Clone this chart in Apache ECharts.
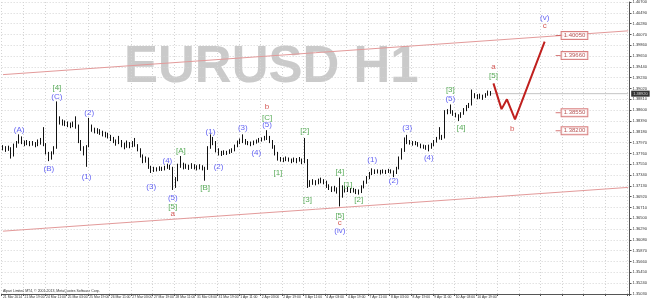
<!DOCTYPE html>
<html><head><meta charset="utf-8">
<script src="https://cdn.jsdelivr.net/npm/echarts@6/dist/echarts.min.js"></script>
<style>html,body{margin:0;padding:0;background:#fff}#c{width:650px;height:300px}</style>
</head><body><div id="c"></div>
<script>
// x tick labels (one every 8 two-hour bars)
const timeLabels = ['21 Mar 2014','21 Mar 19:00','24 Mar 11:00','25 Mar 03:00','25 Mar 19:00','26 Mar 11:00','27 Mar 03:00','27 Mar 19:00','28 Mar 11:00','31 Mar 03:00','31 Mar 19:00','1 Apr 11:00','2 Apr 03:00','2 Apr 19:00','3 Apr 11:00','4 Apr 03:00','4 Apr 19:00','7 Apr 11:00','8 Apr 03:00','8 Apr 19:00','9 Apr 11:00','10 Apr 03:00','10 Apr 19:00'];
const barsPerLabel = 8;
const slotCount = 233;

// EURUSD bars (2-hour), open = previous close
const firstOpen = 1.3784;
const closes = [1.3786,1.3783,1.3787,1.3772,1.3790,1.3796,1.3806,1.3798,1.3795,1.3797,
1.3794,1.3796,1.3793,1.3797,1.3799,1.3794,1.3778,1.3768,1.3776,1.3786,
1.3840,1.3838,1.3836,1.3834,1.3833,1.3830,1.3833,1.3830,1.3800,1.3786,
1.3780,1.3790,1.3826,1.3823,1.3820,1.3821,1.3817,1.3815,1.3812,1.3810,
1.3806,1.3800,1.3796,1.3800,1.3793,1.3789,1.3795,1.3791,1.3794,1.3792,
1.3784,1.3772,1.3762,1.3766,1.3750,1.3742,1.3746,1.3745,1.3747,1.3746,
1.3748,1.3752,1.3748,1.3712,1.3726,1.3752,1.3756,1.3749,1.3751,1.3748,
1.3752,1.3750,1.3747,1.3751,1.3748,1.3746,1.3785,1.3804,1.3798,1.3784,
1.3777,1.3776,1.3778,1.3777,1.3780,1.3782,1.3790,1.3797,1.3800,1.3802,
1.3797,1.3796,1.3794,1.3797,1.3799,1.3802,1.3803,1.3806,1.3808,1.3800,
1.3790,1.3777,1.3766,1.3765,1.3763,1.3766,1.3764,1.3761,1.3764,1.3762,
1.3765,1.3760,1.3763,1.3720,1.3718,1.3721,1.3719,1.3722,1.3724,1.3721,
1.3714,1.3710,1.3706,1.3708,1.3703,1.3706,1.3702,1.3708,1.3706,1.3704,
1.3705,1.3702,1.3701,1.3710,1.3719,1.3728,1.3736,1.3742,1.3740,1.3741,
1.3739,1.3741,1.3740,1.3742,1.3741,1.3739,1.3746,1.3766,1.3780,1.3800,
1.3798,1.3797,1.3795,1.3796,1.3793,1.3790,1.3789,1.3787,1.3788,1.3792,
1.3798,1.3804,1.3808,1.3806,1.3856,1.3857,1.3858,1.3853,1.3850,1.3847,
1.3852,1.3860,1.3866,1.3870,1.3886,1.3888,1.3886,1.3887,1.3885,1.3889,
1.3893,1.3892];
const highs = [1.3792,1.3790,1.3791,1.3788,1.3795,1.3800,1.3813,1.3809,1.3801,1.3802,
1.3800,1.3800,1.3798,1.3803,1.3806,1.3827,1.3796,1.3779,1.3780,1.3790,
1.3877,1.3848,1.3842,1.3840,1.3838,1.3836,1.3838,1.3848,1.3832,1.3802,
1.3790,1.3792,1.3845,1.3832,1.3826,1.3825,1.3823,1.3820,1.3818,1.3816,
1.3812,1.3808,1.3803,1.3810,1.3802,1.3797,1.3801,1.3798,1.3800,1.3806,
1.3794,1.3786,1.3774,1.3770,1.3768,1.3752,1.3750,1.3749,1.3751,1.3750,
1.3752,1.3756,1.3754,1.3750,1.3730,1.3756,1.3771,1.3758,1.3756,1.3754,
1.3757,1.3755,1.3753,1.3755,1.3753,1.3750,1.3790,1.3813,1.3808,1.3800,
1.3786,1.3781,1.3782,1.3781,1.3784,1.3786,1.3793,1.3801,1.3805,1.3813,
1.3804,1.3800,1.3799,1.3801,1.3803,1.3806,1.3807,1.3810,1.3821,1.3810,
1.3802,1.3792,1.3779,1.3769,1.3768,1.3770,1.3768,1.3766,1.3768,1.3767,
1.3769,1.3766,1.3806,1.3765,1.3724,1.3726,1.3724,1.3727,1.3729,1.3726,
1.3723,1.3716,1.3712,1.3713,1.3710,1.3729,1.3714,1.3713,1.3711,1.3709,
1.3709,1.3707,1.3706,1.3714,1.3723,1.3732,1.3740,1.3747,1.3745,1.3745,
1.3744,1.3745,1.3744,1.3746,1.3745,1.3743,1.3750,1.3770,1.3786,1.3807,
1.3812,1.3802,1.3800,1.3800,1.3798,1.3795,1.3793,1.3792,1.3793,1.3796,
1.3802,1.3808,1.3827,1.3812,1.3860,1.3862,1.3871,1.3860,1.3855,1.3852,
1.3856,1.3864,1.3870,1.3874,1.3900,1.3893,1.3891,1.3892,1.3890,1.3893,
1.3898,1.3897];
const lows = [1.3782,1.3779,1.3781,1.3766,1.3770,1.3787,1.3795,1.3794,1.3790,1.3792,
1.3790,1.3791,1.3788,1.3790,1.3793,1.3790,1.3774,1.3761,1.3764,1.3774,
1.3785,1.3832,1.3830,1.3829,1.3827,1.3825,1.3827,1.3824,1.3796,1.3781,
1.3772,1.3750,1.3788,1.3818,1.3815,1.3814,1.3812,1.3809,1.3807,1.3805,
1.3800,1.3796,1.3791,1.3794,1.3788,1.3784,1.3787,1.3786,1.3788,1.3789,
1.3780,1.3768,1.3757,1.3758,1.3746,1.3738,1.3740,1.3741,1.3742,1.3742,
1.3743,1.3746,1.3744,1.3705,1.3709,1.3722,1.3748,1.3745,1.3746,1.3744,
1.3746,1.3745,1.3743,1.3745,1.3743,1.3723,1.3744,1.3785,1.3792,1.3778,
1.3772,1.3771,1.3773,1.3773,1.3775,1.3777,1.3780,1.3788,1.3794,1.3796,
1.3793,1.3792,1.3790,1.3792,1.3795,1.3797,1.3799,1.3801,1.3802,1.3796,
1.3785,1.3772,1.3762,1.3760,1.3759,1.3761,1.3760,1.3757,1.3759,1.3757,
1.3760,1.3755,1.3757,1.3709,1.3711,1.3715,1.3714,1.3716,1.3718,1.3716,
1.3709,1.3705,1.3701,1.3702,1.3698,1.3673,1.3690,1.3700,1.3701,1.3699,
1.3700,1.3697,1.3696,1.3699,1.3708,1.3717,1.3726,1.3734,1.3736,1.3737,
1.3735,1.3737,1.3736,1.3738,1.3737,1.3730,1.3736,1.3745,1.3764,1.3779,
1.3794,1.3793,1.3791,1.3792,1.3789,1.3786,1.3785,1.3783,1.3780,1.3785,
1.3790,1.3797,1.3803,1.3802,1.3805,1.3852,1.3853,1.3849,1.3846,1.3839,
1.3845,1.3851,1.3858,1.3864,1.3869,1.3883,1.3881,1.3882,1.3880,1.3884,
1.3888,1.3888];

// Elliott wave labels: [bar slot, price, text]
const blueLabels = [[6,1.3821,'(A)'],[17,1.3747,'(B)'],[20,1.3885,'(C)'],[31,1.3731,'(1)'],[32,1.3855,'(2)'],[55,1.3711,'(3)'],[61,1.3761,'(4)'],[63,1.3689,'(5)'],[77,1.3817,'(1)'],[80,1.3750,'(2)'],[89,1.3826,'(3)'],[94,1.3777,'(4)'],[98,1.3832,'(5)'],[125,1.3625,'(iv)'],[137,1.3763,'(1)'],[145,1.3723,'(2)'],[150,1.3826,'(3)'],[158,1.3767,'(4)'],[166,1.3883,'(5)'],[201,1.4039,'(v)']];
const greenLabels = [[20,1.3903,'[4]'],[63,1.3673,'[5]'],[66,1.3782,'[A]'],[75,1.3710,'[B]'],[98,1.3846,'[C]'],[102,1.3739,'[1]'],[112,1.3819,'[2]'],[113,1.3686,'[3]'],[125,1.3741,'[4]'],[125,1.3655,'[5]'],[128,1.3715,'[1]'],[132,1.3686,'[2]'],[166,1.3900,'[3]'],[170,1.3825,'[4]'],[182,1.3927,'[5]']];
const redLabels = [[63,1.3659,'a'],[98,1.3866,'b'],[125,1.3642,'c'],[182,1.3945,'a'],[189,1.3824,'b'],[201,1.4023,'c']];

// projected path and channel
const projection = [[182,1.3912],[185,1.3862],[187,1.3881],[190,1.3842],[201,1.3993]];
const channelUpper = [[0,1.3929],[232,1.4014]];
const channelLower = [[0,1.3625],[232,1.3710]];
const levels = [1.40050, 1.39660, 1.38550, 1.38200];
const levelSlot = 206;

const ohlc = closes.map((c, i) => [i === 0 ? firstOpen : closes[i - 1], c, lows[i], highs[i]]);
const lastClose = closes[closes.length - 1];
const lastSlot = closes.length - 1;
const cats = Array.from({length: slotCount}, (_, i) => String(i));
const FONT = 'Liberation Sans, Arial, sans-serif';

function waveSeries(data, color) {
  return {
    type: 'scatter', data: data, symbolSize: 0, z: 5, silent: true,
    label: {show: true, position: 'inside', formatter: p => p.value[2], color: color,
      fontSize: 8, fontFamily: FONT, align: 'center', verticalAlign: 'middle'}
  };
}

const chart = echarts.init(document.getElementById('c'), null, {renderer: 'canvas'});
chart.setOption({
  animation: false,
  backgroundColor: '#ffffff',
  grid: {left: 0, right: 17, top: 0, bottom: 6, containLabel: false},
  graphic: [
    {type: 'text', left: 124, top: 42, z: -10, silent: true,
      style: {text: 'EURUSD H1', fill: '#cacaca', font: 'bold 51px ' + FONT}},
    {type: 'text', left: 3, top: 289, silent: true,
      style: {text: 'Alpari Limited MT4, \u00a9 2001-2013, MetaQuotes Software Corp.', fill: '#333', font: '3.5px ' + FONT}}
  ],
  xAxis: {
    type: 'category', data: cats, boundaryGap: true,
    axisLine: {show: true, lineStyle: {color: '#555', width: 1}},
    axisTick: {show: true, interval: barsPerLabel - 1, length: 2, lineStyle: {color: '#555'}},
    axisLabel: {interval: barsPerLabel - 1, fontSize: 3.4, color: '#333', margin: 2, align: 'left', fontFamily: FONT,
      formatter: (v, i) => timeLabels[i / barsPerLabel] || ''},
    splitLine: {show: true, interval: barsPerLabel - 1, lineStyle: {color: '#d4d4d4', type: [1, 2], width: 1}}
  },
  yAxis: {
    type: 'value', position: 'right', min: 1.3503, max: 1.4070, interval: 0.0021,
    axisLine: {show: true, lineStyle: {color: '#555', width: 1}},
    axisTick: {show: true, length: 2, lineStyle: {color: '#555'}},
    axisLabel: {fontSize: 4, color: '#333', margin: 3, fontFamily: FONT, formatter: v => v.toFixed(5)},
    splitLine: {show: true, lineStyle: {color: '#d4d4d4', type: [1, 2], width: 1}}
  },
  series: [
    {type: 'line', data: [[lastSlot, lastClose], [slotCount - 1, lastClose]], symbol: 'none', silent: true,
      lineStyle: {color: '#c4c4c4', width: 1}, z: 1},
    {type: 'line', data: channelUpper, symbol: 'none', silent: true, lineStyle: {color: '#e39a9a', width: 1}, z: 2},
    {type: 'line', data: channelLower, symbol: 'none', silent: true, lineStyle: {color: '#e39a9a', width: 1}, z: 2},
    {type: 'candlestick', data: ohlc, barWidth: 1.2, silent: true, z: 3,
      itemStyle: {color: '#111', color0: '#111', borderColor: '#111', borderColor0: '#111', borderWidth: 1}},
    {type: 'line', data: projection, symbol: 'none', silent: true, lineStyle: {color: '#c0201e', width: 2}, z: 4},
    waveSeries(blueLabels, '#3b3bf0'),
    waveSeries(greenLabels, '#2f962f'),
    waveSeries(redLabels, '#c9302c'),
    {type: 'scatter', data: levels.map(v => [levelSlot, v]), symbol: 'rect', symbolSize: [5, 1], silent: true, z: 6,
      itemStyle: {color: '#cc5555'},
      label: {show: true, position: 'right', distance: 1, formatter: p => p.value[1].toFixed(5),
        fontSize: 6, fontFamily: FONT, color: '#a52a2a', backgroundColor: '#fff',
        borderColor: '#d06060', borderWidth: 1, padding: [1, 2, 0, 2]}},
    {type: 'scatter', data: [[slotCount - 1, lastClose]], symbolSize: 0, silent: true, z: 7, clip: false,
      label: {show: true, position: 'right', distance: 3, formatter: p => p.value[1].toFixed(5),
        fontSize: 4, fontFamily: FONT, color: '#fff', backgroundColor: '#000', padding: [1, 2, 1, 2]}}
  ]
});
</script>
</body></html>
